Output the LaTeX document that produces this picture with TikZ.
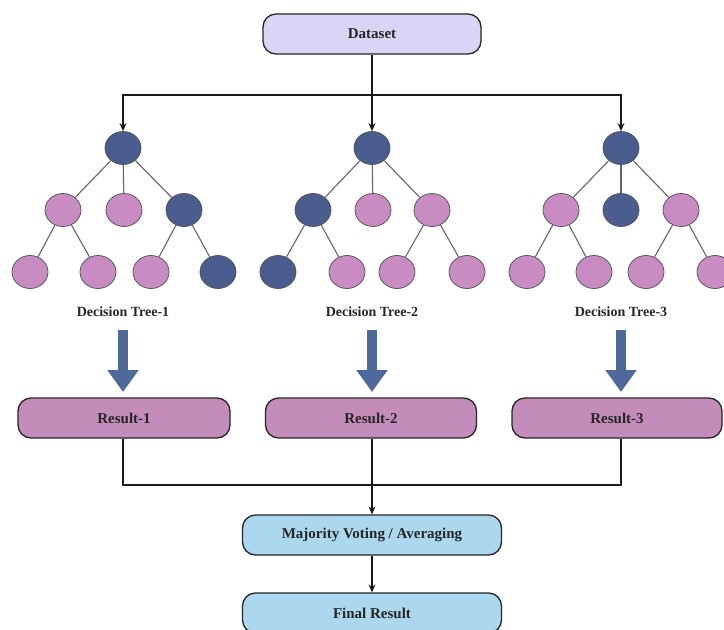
\documentclass[tikz,border=0pt]{standalone}
\usepackage{fontspec}
\setmainfont{Liberation Serif}
\usetikzlibrary{shapes.geometric,arrows.meta}
\definecolor{dsfill}{HTML}{DCD4F5}
\definecolor{darknode}{HTML}{4A5D8E}
\definecolor{pinknode}{HTML}{C88CC3}
\definecolor{resfill}{HTML}{C48CBA}
\definecolor{bluefill}{HTML}{ABD8EE}
\definecolor{bigarrow}{HTML}{50699B}
\tikzset{
  box/.style={draw=black!85, line width=1.3pt, rounded corners=13pt, minimum height=40pt, font=\fontsize{15}{17}\selectfont\bfseries, text=black!85},
  tn/.style={ellipse, draw=black!70, line width=0.7pt, minimum width=36pt, minimum height=33pt, inner sep=0pt},
  dk/.style={tn, fill=darknode},
  pk/.style={tn, fill=pinknode},
  edge/.style={draw=black!60, line width=1.1pt},
  conn/.style={draw=black!90, line width=1.2pt},
  arr/.style={conn, -{Stealth[length=8pt,width=7pt]}},
  big/.style={draw=bigarrow, line width=10pt, -{Triangle[length=22pt,width=30pt]}},
  lab/.style={font=\fontsize{14}{16}\selectfont\bfseries, text=black!85, inner sep=2pt}
}
\begin{document}
\begin{tikzpicture}[x=1pt,y=-1pt]
\useasboundingbox (0,0) rectangle (724,630);
\fill[white] (0,0) rectangle (724,630);
\begin{scope}
\clip (0,0) rectangle (724,630);
% top
\node[box, fill=dsfill, minimum width=218pt] (ds) at (372,34) {Dataset};
\coordinate (split) at (372,95);
% tree 1
\node[dk] (a0) at (123,148) {};
\node[pk] (a1) at (63,210) {};
\node[pk] (a2) at (124,210) {};
\node[dk] (a3) at (184,210) {};
\node[pk] (a4) at (30,272) {};
\node[pk] (a5) at (98,272) {};
\node[pk] (a6) at (151,272) {};
\node[dk] (a7) at (218,272) {};
% tree 2
\node[dk] (b0) at (372,148) {};
\node[dk] (b1) at (313,210) {};
\node[pk] (b2) at (373,210) {};
\node[pk] (b3) at (432,210) {};
\node[dk] (b4) at (278,272) {};
\node[pk] (b5) at (347,272) {};
\node[pk] (b6) at (397,272) {};
\node[pk] (b7) at (467,272) {};
% tree 3
\node[dk] (c0) at (621,148) {};
\node[pk] (c1) at (561,210) {};
\node[dk] (c2) at (621,210) {};
\node[pk] (c3) at (681,210) {};
\node[pk] (c4) at (527,272) {};
\node[pk] (c5) at (594,272) {};
\node[pk] (c6) at (646,272) {};
\node[pk] (c7) at (715,272) {};
% edges
\foreach \t in {a,b,c}{
  \path[edge] (\t0) -- (\t1);
  \path[edge] (\t0) -- (\t2);
  \path[edge] (\t0) -- (\t3);
  \path[edge] (\t1) -- (\t4);
  \path[edge] (\t1) -- (\t5);
  \path[edge] (\t3) -- (\t6);
  \path[edge] (\t3) -- (\t7);
}
% dataset connectors
\path[arr] (ds) -- (b0);
\path[arr] (split) -| (a0);
\path[arr] (split) -| (c0);
% labels
\node[lab] (l1) at (123,312) {Decision Tree-1};
\node[lab] (l2) at (372,312) {Decision Tree-2};
\node[lab] (l3) at (621,312) {Decision Tree-3};
% results
\node[box, fill=resfill, minimum width=212pt] (r1) at (124,418) {Result-1};
\node[box, fill=resfill, minimum width=211pt] (r2) at (371,418) {Result-2};
\node[box, fill=resfill, minimum width=210pt] (r3) at (617,418) {Result-3};
\coordinate (t1) at (123,330);
\coordinate (t2) at (372,330);
\coordinate (t3) at (621,330);
\path[big] (t1) -- (t1 |- 0,392);
\path[big] (t2) -- (t2 |- 0,392);
\path[big] (t3) -- (t3 |- 0,392);
% aggregation
\node[box, fill=bluefill, minimum width=259pt] (mj) at (372,535) {Majority Voting / Averaging};
\node[box, fill=bluefill, minimum width=259pt] (fr) at (372,613) {Final Result};
\coordinate (join) at (372,485);
\path[conn] (t1 |- r1.south) |- (join);
\path[conn] (t3 |- r3.south) |- (join);
\path[arr] (join |- r2.south) -- (mj);
\path[arr] (mj) -- (fr);
\end{scope}
\end{tikzpicture}
\end{document}
